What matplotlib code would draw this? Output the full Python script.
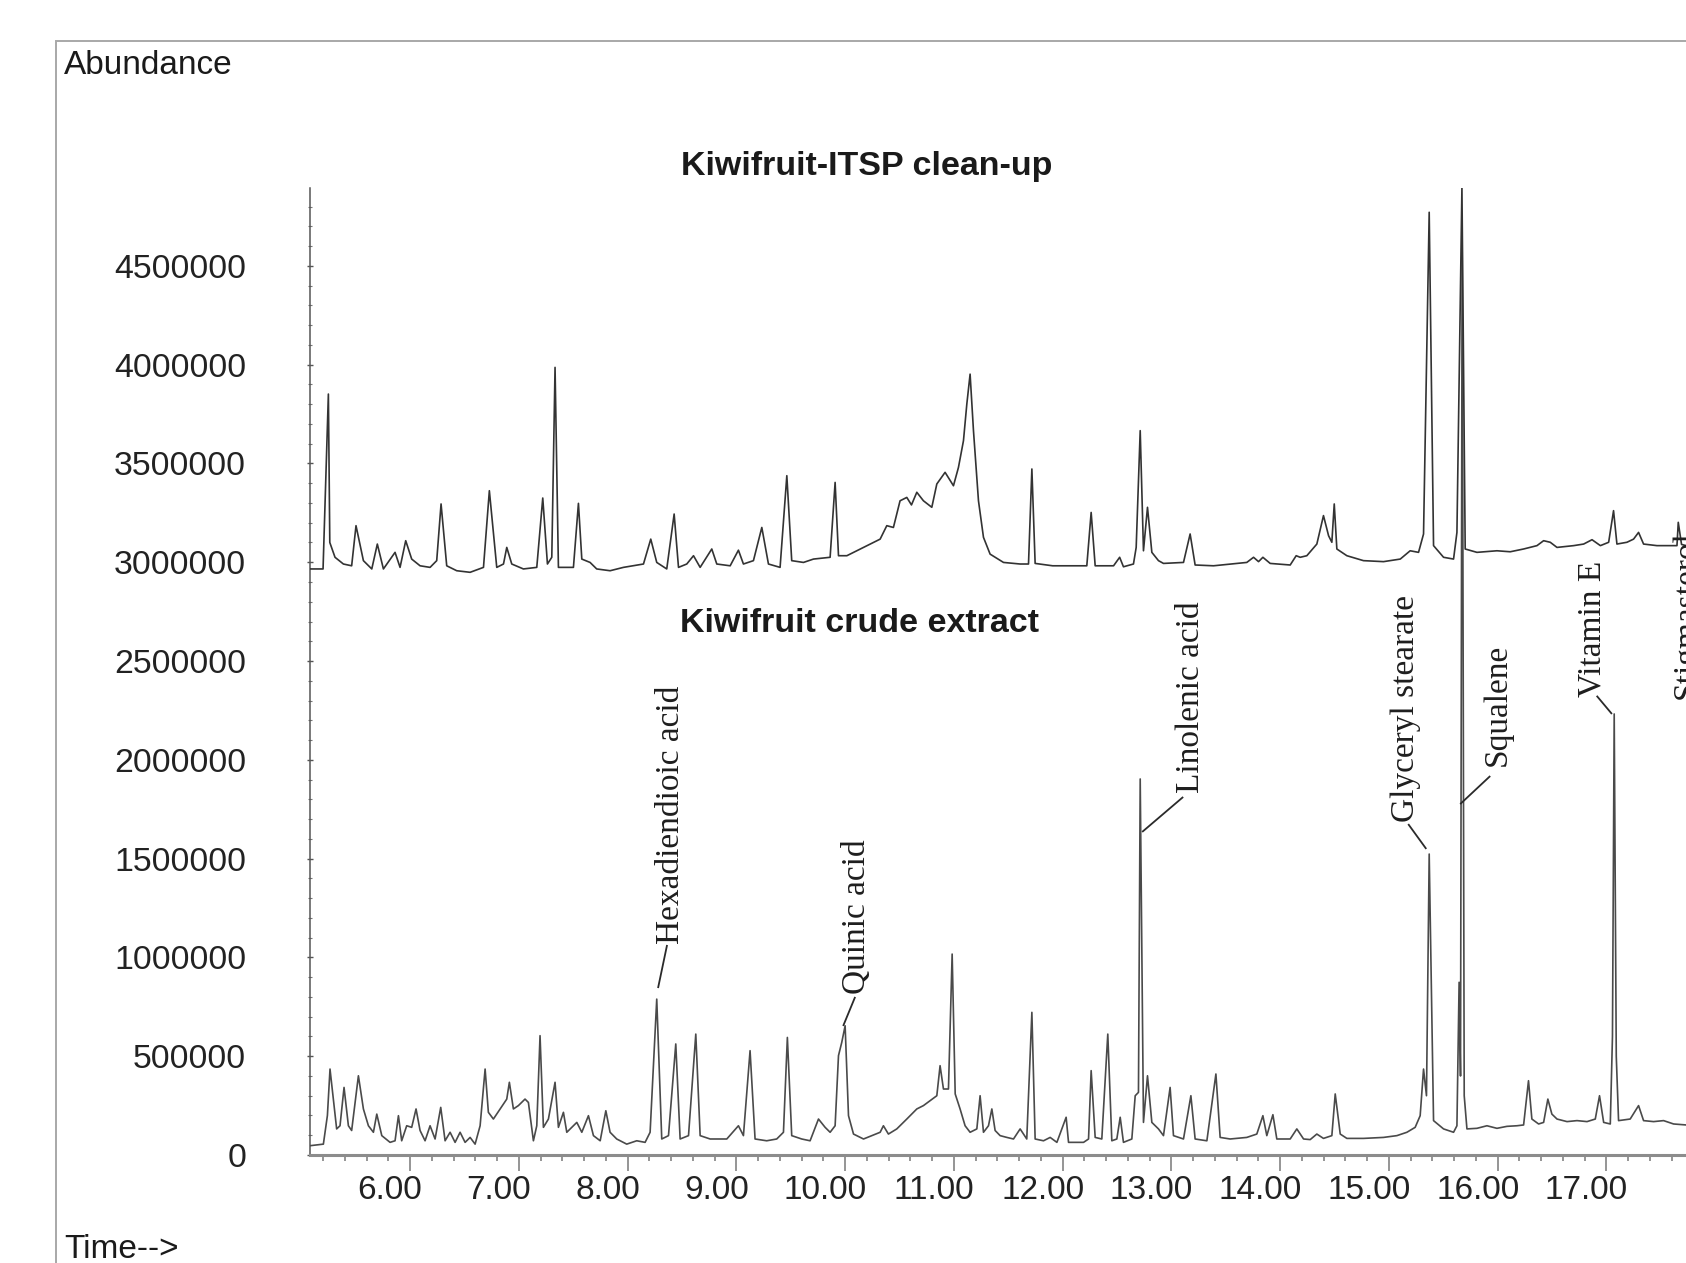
import matplotlib
matplotlib.use("Agg")
import matplotlib.pyplot as plt
import matplotlib.patches as mpatches
from matplotlib.ticker import FixedLocator, MultipleLocator, FuncFormatter
from matplotlib.transforms import ScaledTranslation

# ---------------- data ----------------
# Kiwifruit-ITSP clean-up (upper trace): retention time (min) / abundance
itsp_time = [5.080, 5.200, 5.249, 5.262, 5.310, 5.387, 5.463, 5.503, 5.571, 5.648,
             5.699, 5.755, 5.862, 5.908, 5.960, 6.015, 6.092, 6.184, 6.245, 6.285,
             6.337, 6.429, 6.552, 6.675, 6.729, 6.797, 6.859, 6.889, 6.935, 7.042,
             7.165, 7.220, 7.263, 7.303, 7.333, 7.364, 7.502, 7.548, 7.579, 7.655,
             7.716, 7.839, 7.962, 8.146, 8.213, 8.268, 8.360, 8.428, 8.468, 8.544,
             8.606, 8.667, 8.774, 8.820, 8.943, 9.019, 9.065, 9.157, 9.234, 9.295,
             9.402, 9.464, 9.509, 9.617, 9.709, 9.862, 9.908, 9.939, 10.016, 10.168,
             10.322, 10.383, 10.444, 10.505, 10.567, 10.610, 10.659, 10.720, 10.797, 10.843,
             10.919, 10.996, 11.042, 11.088, 11.119, 11.149, 11.180, 11.226, 11.272, 11.333,
             11.456, 11.609, 11.686, 11.717, 11.747, 11.908, 12.222, 12.262, 12.299, 12.468,
             12.524, 12.559, 12.651, 12.676, 12.713, 12.743, 12.780, 12.820, 12.881, 12.927,
             13.111, 13.172, 13.218, 13.387, 13.693, 13.755, 13.801, 13.841, 13.908, 14.092,
             14.147, 14.184, 14.245, 14.337, 14.398, 14.445, 14.475, 14.497, 14.521, 14.613,
             14.766, 14.950, 15.104, 15.195, 15.272, 15.318, 15.370, 15.410, 15.502, 15.594,
             15.625, 15.671, 15.701, 15.809, 15.993, 16.115, 16.238, 16.361, 16.422, 16.483,
             16.545, 16.698, 16.790, 16.867, 16.944, 17.020, 17.065, 17.096, 17.188, 17.249,
             17.295, 17.341, 17.464, 17.648, 17.660, 17.690, 17.733]
itsp_abund = [2966000, 2966000, 3851000, 3100000, 3025000, 2991000, 2982000, 3185000, 3008000, 2966000,
              3092000, 2966000, 3050000, 2974000, 3109000, 3016000, 2982000, 2974000, 3008000, 3295000,
              2982000, 2957000, 2949000, 2974000, 3362000, 2974000, 2991000, 3075000, 2991000, 2966000,
              2974000, 3325000, 2991000, 3025000, 3986000, 2974000, 2974000, 3298000, 3016000, 2999000,
              2966000, 2957000, 2974000, 2991000, 3117000, 2999000, 2966000, 3244000, 2974000, 2991000,
              3033000, 2974000, 3067000, 2991000, 2982000, 3061000, 2991000, 3008000, 3176000, 2991000,
              2974000, 3438000, 3008000, 2999000, 3016000, 3025000, 3404000, 3033000, 3033000, 3075000,
              3117000, 3185000, 3176000, 3311000, 3328000, 3290000, 3354000, 3311000, 3278000, 3396000,
              3455000, 3387000, 3480000, 3615000, 3801000, 3952000, 3666000, 3311000, 3126000, 3041000,
              2999000, 2991000, 2991000, 3472000, 2994000, 2982000, 2982000, 3252000, 2982000, 2982000,
              3025000, 2977000, 2991000, 3075000, 3666000, 3058000, 3278000, 3050000, 3008000, 2994000,
              2999000, 3143000, 2986000, 2982000, 2999000, 3025000, 3003000, 3025000, 2994000, 2986000,
              3033000, 3025000, 3033000, 3092000, 3236000, 3134000, 3101000, 3295000, 3067000, 3033000,
              3008000, 3003000, 3016000, 3058000, 3050000, 3143000, 4771000, 3084000, 3025000, 3016000,
              3151000, 4897000, 3067000, 3050000, 3058000, 3053000, 3067000, 3084000, 3109000, 3101000,
              3075000, 3084000, 3092000, 3114000, 3084000, 3101000, 3261000, 3092000, 3101000, 3117000,
              3151000, 3092000, 3084000, 3084000, 3202000, 3090000, 3084000]

# Kiwifruit crude extract (lower trace)
crude_time = [5.080, 5.203, 5.240, 5.264, 5.325, 5.356, 5.393, 5.433, 5.463, 5.525,
              5.571, 5.617, 5.663, 5.694, 5.740, 5.816, 5.862, 5.893, 5.923, 5.969,
              6.015, 6.055, 6.092, 6.138, 6.184, 6.230, 6.282, 6.322, 6.368, 6.414,
              6.460, 6.506, 6.552, 6.598, 6.644, 6.690, 6.720, 6.766, 6.828, 6.889,
              6.913, 6.950, 6.996, 7.057, 7.088, 7.134, 7.165, 7.195, 7.226, 7.272,
              7.333, 7.364, 7.410, 7.441, 7.487, 7.533, 7.579, 7.640, 7.686, 7.748,
              7.800, 7.839, 7.900, 7.992, 8.084, 8.161, 8.207, 8.268, 8.314, 8.376,
              8.443, 8.483, 8.560, 8.627, 8.667, 8.759, 8.912, 9.019, 9.065, 9.126,
              9.172, 9.279, 9.371, 9.433, 9.469, 9.509, 9.601, 9.678, 9.755, 9.816,
              9.862, 9.908, 9.939, 9.969, 10.000, 10.031, 10.077, 10.169, 10.322, 10.352,
              10.398, 10.475, 10.567, 10.659, 10.720, 10.781, 10.843, 10.873, 10.904, 10.950,
              10.984, 11.012, 11.057, 11.103, 11.149, 11.211, 11.241, 11.272, 11.318, 11.349,
              11.379, 11.425, 11.487, 11.548, 11.609, 11.670, 11.717, 11.747, 11.824, 11.885,
              11.947, 12.032, 12.054, 12.192, 12.238, 12.262, 12.299, 12.360, 12.415, 12.452,
              12.498, 12.529, 12.559, 12.636, 12.667, 12.697, 12.713, 12.743, 12.780, 12.820,
              12.881, 12.927, 12.988, 13.019, 13.111, 13.179, 13.218, 13.326, 13.409, 13.448,
              13.540, 13.693, 13.785, 13.841, 13.877, 13.933, 13.969, 14.092, 14.153, 14.215,
              14.276, 14.337, 14.398, 14.475, 14.506, 14.552, 14.613, 14.766, 14.950, 15.073,
              15.165, 15.241, 15.287, 15.318, 15.345, 15.370, 15.410, 15.502, 15.594, 15.625,
              15.645, 15.658, 15.673, 15.692, 15.717, 15.809, 15.901, 15.993, 16.085, 16.177,
              16.238, 16.283, 16.314, 16.376, 16.422, 16.461, 16.498, 16.545, 16.637, 16.729,
              16.821, 16.897, 16.936, 16.974, 17.035, 17.055, 17.071, 17.090, 17.111, 17.218,
              17.295, 17.341, 17.433, 17.525, 17.617, 17.733]
crude_abund = [47000, 55000, 200000, 435000, 132000, 148000, 342000, 148000, 124000, 401000,
               233000, 148000, 115000, 207000, 98000, 64000, 72000, 199000, 72000, 148000,
               140000, 233000, 124000, 72000, 148000, 81000, 241000, 72000, 115000, 64000,
               115000, 64000, 89000, 55000, 148000, 435000, 216000, 182000, 233000, 283000,
               368000, 233000, 250000, 283000, 266000, 72000, 148000, 604000, 140000, 182000,
               368000, 140000, 216000, 115000, 140000, 165000, 115000, 199000, 98000, 72000,
               224000, 115000, 81000, 55000, 72000, 64000, 115000, 789000, 81000, 98000,
               562000, 81000, 98000, 612000, 98000, 81000, 81000, 148000, 98000, 528000,
               81000, 72000, 81000, 115000, 595000, 98000, 81000, 72000, 182000, 140000,
               115000, 148000, 503000, 570000, 654000, 199000, 106000, 81000, 115000, 148000,
               106000, 132000, 182000, 233000, 250000, 275000, 300000, 452000, 334000, 334000,
               1017000, 309000, 233000, 148000, 115000, 132000, 300000, 115000, 148000, 233000,
               124000, 98000, 89000, 81000, 132000, 81000, 722000, 81000, 72000, 89000,
               64000, 191000, 64000, 64000, 81000, 427000, 89000, 81000, 612000, 72000,
               81000, 191000, 64000, 81000, 300000, 317000, 1903000, 165000, 401000, 165000,
               132000, 98000, 342000, 98000, 81000, 300000, 81000, 72000, 410000, 89000,
               81000, 89000, 106000, 199000, 98000, 204000, 81000, 81000, 132000, 81000,
               78000, 106000, 84000, 98000, 309000, 106000, 84000, 84000, 89000, 98000,
               115000, 140000, 199000, 435000, 300000, 1523000, 174000, 132000, 115000, 148000,
               874000, 400000, 4620000, 300000, 132000, 135000, 148000, 135000, 145000, 148000,
               152000, 376000, 182000, 157000, 165000, 283000, 207000, 182000, 169000, 174000,
               169000, 182000, 300000, 165000, 157000, 600000, 2232000, 500000, 174000, 182000,
               250000, 174000, 169000, 174000, 157000, 152000]

# peak labels (crude extract)
label_names = ["Hexadiendioic acid", "Quinic acid", "Linolenic acid",
               "Glyceryl stearate", "Squalene", "Vitamin E", "Stigmasterol"]
leader_from_t = [8.280, 9.982, 12.731, 15.343, 15.655, 17.050]
leader_from_v = [845000, 653000, 1635000, 1549000, 1776000, 2232000]
leader_to_t = [8.363, 10.092, 13.108, 15.177, 15.931, 16.910]
leader_to_v = [1063000, 800000, 1812000, 1675000, 1918000, 2324000]
label_t = [8.400, 10.110, 13.180, 15.150, 15.995, 16.870, 17.740]
label_v = [1070000, 815000, 1832000, 1684000, 1969000, 2318000, 2310000]

trace_titles = ["Kiwifruit-ITSP clean-up", "Kiwifruit crude extract"]
y_ticks = [0, 500000, 1000000, 1500000, 2000000, 2500000, 3000000, 3500000, 4000000, 4500000]
x_ticks = [6, 7, 8, 9, 10, 11, 12, 13, 14, 15, 16, 17, 18]
x_tick_labels = ["6.00", "7.00", "8.00", "9.00", "10.00", "11.00", "12.00",
                 "13.00", "14.00", "15.00", "16.00", "17.00", ""]

# ---------------- figure ----------------
W, H, DPI = 1686, 1263, 100
fig = plt.figure(figsize=(W / DPI, H / DPI), dpi=DPI, facecolor="white")

SANS = ["Liberation Sans", "DejaVu Sans"]
SERIF = ["Liberation Serif", "DejaVu Serif"]

def fx(px):
    return px / W

def fy(py):
    return 1 - py / H

# outer frame (cropped on right/bottom like the reference)
frame = mpatches.Rectangle((fx(56), -0.2), 2.0, fy(41) + 0.2, transform=fig.transFigure,
                           fill=False, edgecolor="#a8a8a8", linewidth=1.4, clip_on=False)
fig.patches.append(frame)

ax_left, ax_right = fx(310), fx(1737)
ax_bottom, ax_top = fy(1155), fy(188)
ax = fig.add_axes([ax_left, ax_bottom, ax_right - ax_left, ax_top - ax_bottom])
ax.set_xlim(5.08, 18.2)
ax.set_ylim(0, 4894000)
ax.patch.set_alpha(0)

ax.plot(crude_time, crude_abund, color="#4a4a4a", lw=1.2, zorder=3)
ax.plot(itsp_time, itsp_abund, color="#333333", lw=1.2, zorder=4)

# spines
for s in ["top", "right"]:
    ax.spines[s].set_visible(False)
ax.spines["left"].set_color("#555555")
ax.spines["left"].set_linewidth(1.1)
ax.spines["bottom"].set_color("#8c8c8c")
ax.spines["bottom"].set_linewidth(2.2)

# x ticks
ax.xaxis.set_major_locator(FixedLocator(x_ticks))
ax.xaxis.set_major_formatter(FuncFormatter(lambda v, p: x_tick_labels[x_ticks.index(int(round(v)))]
                                           if int(round(v)) in x_ticks else ""))
ax.xaxis.set_minor_locator(MultipleLocator(0.2))
ax.tick_params(axis="x", which="major", length=11.5, width=1.3, color="#8c8c8c",
               pad=3, labelsize=24, labelcolor="#222222")
ax.tick_params(axis="x", which="minor", length=4.5, width=1.3, color="#8c8c8c")

# y ticks
ax.yaxis.set_major_locator(FixedLocator(y_ticks))
ax.yaxis.set_major_formatter(FuncFormatter(lambda v, p: f"{int(round(v))}"))
ax.yaxis.set_minor_locator(MultipleLocator(100000))
ax.tick_params(axis="y", which="major", length=4, width=1.0, color="#555555", direction="inout",
               pad=44, labelsize=24.4, labelcolor="#222222")
ax.tick_params(axis="y", which="minor", length=3, width=0.8, color="#777777", direction="inout")

for lbl in ax.get_xticklabels() + ax.get_yticklabels():
    lbl.set_fontfamily(SANS)

fig.canvas.draw()
shift = ScaledTranslation(-20 / DPI, 0, fig.dpi_scale_trans)
for lbl in ax.get_xticklabels():
    lbl.set_transform(lbl.get_transform() + shift)

# peak labels with leader lines
for i, name in enumerate(label_names):
    if i < len(leader_from_t):
        ax.plot([leader_from_t[i], leader_to_t[i]], [leader_from_v[i], leader_to_v[i]],
                color="#2a2a2a", lw=1.3, zorder=5, solid_capstyle="butt")
    ax.text(label_t[i], label_v[i], name, rotation=90, rotation_mode="anchor",
            ha="left", va="center", fontsize=24, family=SERIF, color="#1e1e1e", zorder=6,
            clip_on=False)

# trace titles and axis captions
fig.text(fx(867), fy(175), trace_titles[0], ha="center", va="baseline",
         fontsize=24.5, fontweight="bold", family=SANS, color="#1a1a1a")
fig.text(fx(860), fy(632), trace_titles[1], ha="center", va="baseline",
         fontsize=24.5, fontweight="bold", family=SANS, color="#1a1a1a")
fig.text(fx(64), fy(74), "Abundance", ha="left", va="baseline",
         fontsize=24, family=SANS, color="#1a1a1a")
fig.text(fx(64), fy(1258), "Time-->", ha="left", va="baseline",
         fontsize=24, family=SANS, color="#1a1a1a")

fig.savefig("out.png", dpi=DPI, facecolor="white")
